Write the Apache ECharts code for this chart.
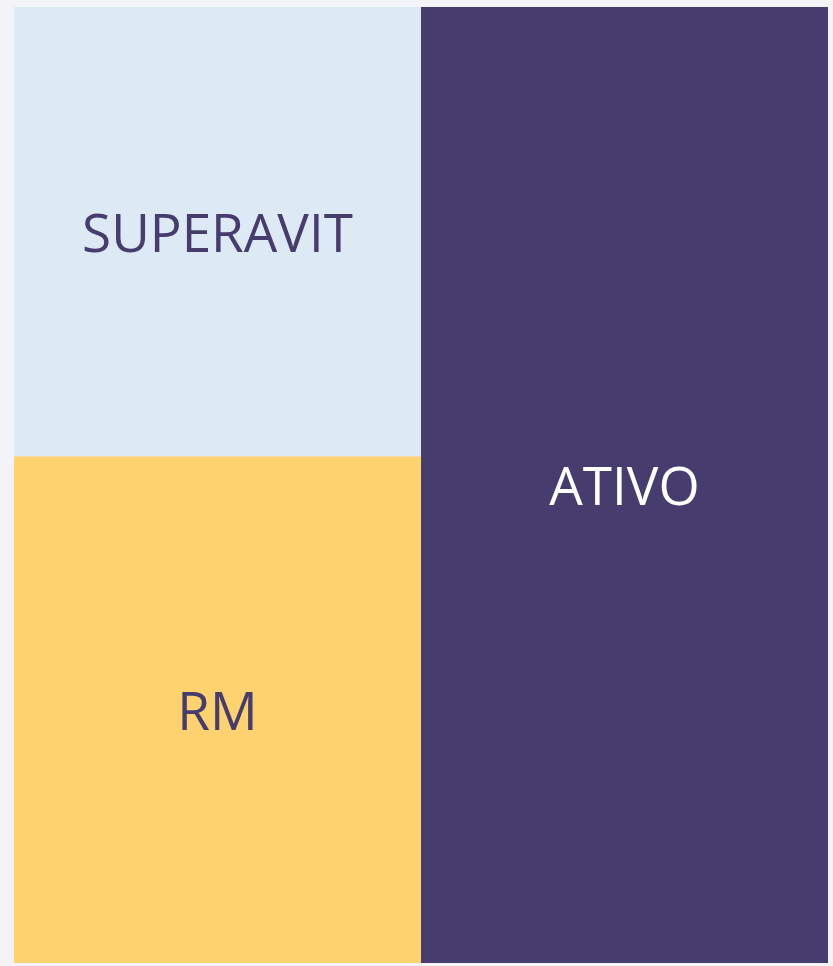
<!DOCTYPE html>
<html>
<head>
<meta charset="utf-8">
<script src="https://cdn.jsdelivr.net/npm/echarts@6/dist/echarts.min.js"></script>
<style>
html,body{margin:0;padding:0;background:#f3f3f8;}
#chart{width:833px;height:966px;}
</style>
</head>
<body>
<div id="chart"></div>
<script>
const categories = ['Passivo', 'Ativo'];
const rmValues = [53, '-'];
const superavitValues = [47, '-'];
const ativoValues = ['-', 100];
const seriesNames = ['RM', 'SUPERAVIT', 'ATIVO'];

const chart = echarts.init(document.getElementById('chart'));
const labelFont = {fontFamily: 'Open Sans', fontSize: 53, offset: [0, 5]};
chart.setOption({
  backgroundColor: '#f3f3f8',
  animation: false,
  grid: {left: 14, right: 5, top: 7, bottom: 3},
  xAxis: {type: 'category', data: categories, show: false},
  yAxis: {type: 'value', min: 0, max: 100, show: false},
  series: [
    {name: seriesNames[0], type: 'bar', stack: 's', data: rmValues, barWidth: '100%', barGap: '-100%',
     itemStyle: {color: '#ffd270'},
     label: Object.assign({show: true, position: 'inside', formatter: seriesNames[0], color: '#473c6e'}, labelFont)},
    {name: seriesNames[1], type: 'bar', stack: 's', data: superavitValues, barWidth: '100%',
     itemStyle: {color: '#dde9f5'},
     label: Object.assign({show: true, position: 'inside', formatter: seriesNames[1], color: '#473c6e'}, labelFont)},
    {name: seriesNames[2], type: 'bar', stack: 's', data: ativoValues, barWidth: '100%',
     itemStyle: {color: '#473c6e'},
     label: Object.assign({show: true, position: 'inside', formatter: seriesNames[2], color: '#ffffff'}, labelFont)}
  ]
});
</script>
</body>
</html>
